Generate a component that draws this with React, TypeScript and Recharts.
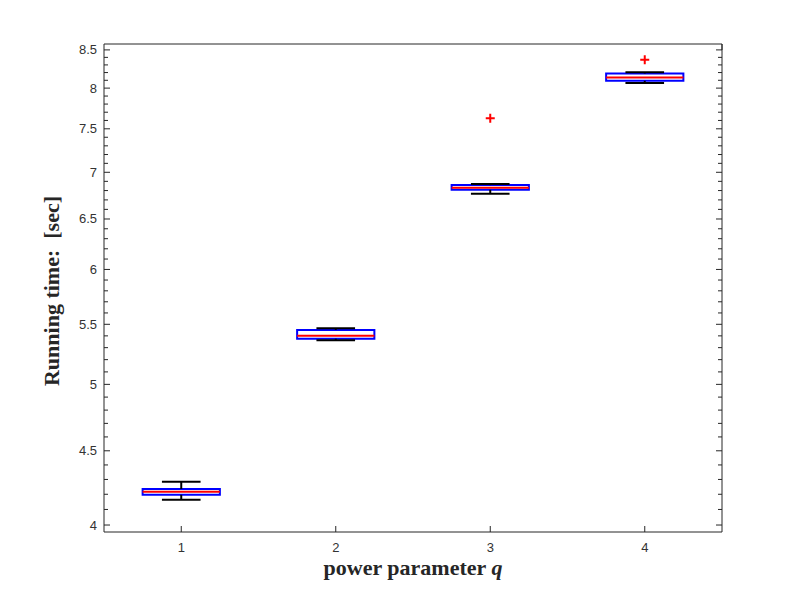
import { ComposedChart, Label, ReferenceArea, ReferenceLine, Scatter, XAxis, YAxis } from "recharts";

// group positions along the x axis (power parameter q)
const groups = [1, 2, 3, 4];
// box statistics (seconds)
const whiskerLow = [4.164, 5.363, 6.765, 8.064];
const q1 = [4.197, 5.376, 6.808, 8.094];
const medians = [4.217, 5.402, 6.83, 8.136];
const q3 = [4.235, 5.451, 6.859, 8.188];
const whiskerHigh = [4.284, 5.466, 6.87, 8.205];
// outliers drawn as red "+"
const outlierGroups = [3, 4];
const outlierValues = [7.628, 8.368];

const xTicks = [1, 2, 3, 4];
const yMajorTicks = [4, 4.5, 5, 5.5, 6, 6.5, 7, 7.5, 8, 8.5];
// log-axis minor ticks every 0.1 between the majors
const yTicks: number[] = [];
for (let i = 40; i <= 85; i++) yTicks.push(i / 10);

const Y_DOMAIN: [number, number] = [3.956, 8.58];
const X_DOMAIN: [number, number] = [0.5, 4.5];
const BOX_HALF = 0.25;
const CAP_HALF = 0.125;
const AXIS = "#262626";
const TICK_FONT = "'Liberation Sans', Arial, Helvetica, sans-serif";
const LABEL_FONT = "'Liberation Serif', 'Times New Roman', serif";

const outliers = outlierGroups.map((q, i) => ({ q, t: outlierValues[i] }));

const isMajor = (v: number) => yMajorTicks.some((m) => Math.abs(m - v) < 1e-6);

function BottomTick({ x, y, payload }: any) {
  return (
    <g>
      <line x1={x} y1={y} x2={x} y2={y - 6} stroke={AXIS} />
      <text x={x} y={y + 20} textAnchor="middle" fontSize={13} fontFamily={TICK_FONT} fill="#333">
        {payload.value}
      </text>
    </g>
  );
}

function TopTick({ x, y }: any) {
  return <line x1={x} y1={y} x2={x} y2={y + 6} stroke={AXIS} />;
}

function LeftTick({ x, y, payload }: any) {
  const major = isMajor(payload.value);
  return (
    <g>
      <line x1={x} y1={y} x2={x + (major ? 6 : 4)} y2={y} stroke={AXIS} />
      {major && (
        <text x={x - 7} y={y + 4.5} textAnchor="end" fontSize={13} fontFamily={TICK_FONT} fill="#333">
          {payload.value}
        </text>
      )}
    </g>
  );
}

function RightTick({ x, y, payload }: any) {
  const major = isMajor(payload.value);
  return <line x1={x} y1={y} x2={x - (major ? 6 : 4)} y2={y} stroke={AXIS} />;
}

function PlusMark({ cx, cy }: any) {
  return <path d={`M${cx - 4.5},${cy}H${cx + 4.5}M${cx},${cy - 4.5}V${cy + 4.5}`} stroke="#ff0000" strokeWidth={2} fill="none" />;
}

export default function App() {
  return (
    <div style={{ position: "absolute", left: 0, top: 0, width: 798, height: 598, background: "#fff" }}>
      <ComposedChart width={798} height={598} data={outliers} margin={{ top: 43, right: 75, bottom: 36, left: 44 }}>
        <XAxis
          dataKey="q"
          type="number"
          domain={X_DOMAIN}
          ticks={xTicks}
          interval={0}
          allowDataOverflow
          height={30}
          tickSize={0}
          tickMargin={0}
          tickLine={false}
          axisLine={{ stroke: AXIS }}
          tick={<BottomTick />}
        >
          <Label
            content={({ viewBox }: any) => (
              <text
                x={viewBox.x + viewBox.width / 2}
                y={viewBox.y + 43}
                textAnchor="middle"
                fontSize={22}
                fontWeight="bold"
                fontFamily={LABEL_FONT}
                fill={AXIS}
              >
                power parameter <tspan fontStyle="italic">q</tspan>
              </text>
            )}
          />
        </XAxis>
        <XAxis
          xAxisId="top"
          orientation="top"
          type="number"
          domain={X_DOMAIN}
          ticks={xTicks}
          interval={0}
          allowDataOverflow
          height={1}
          tickSize={0}
          tickMargin={0}
          tickLine={false}
          axisLine={{ stroke: AXIS }}
          tick={<TopTick />}
        />
        <YAxis
          dataKey="t"
          type="number"
          scale="log"
          domain={Y_DOMAIN}
          ticks={yTicks}
          interval={0}
          allowDataOverflow
          width={60}
          tickSize={0}
          tickMargin={0}
          tickLine={false}
          axisLine={{ stroke: AXIS }}
          tick={<LeftTick />}
        >
          <Label
            content={({ viewBox }: any) => (
              <text
                transform={`translate(${viewBox.x + viewBox.width - 45},${viewBox.y + viewBox.height / 2 + 3}) rotate(-90)`}
                textAnchor="middle"
                fontSize={22}
                fontWeight="bold"
                fontFamily={LABEL_FONT}
                fill={AXIS}
                style={{ whiteSpace: "pre" }}
              >
                {"Running time:  [sec]"}
              </text>
            )}
          />
        </YAxis>
        <YAxis
          yAxisId="right"
          orientation="right"
          type="number"
          scale="log"
          domain={Y_DOMAIN}
          ticks={yTicks}
          interval={0}
          allowDataOverflow
          width={1}
          tickSize={0}
          tickMargin={0}
          tickLine={false}
          axisLine={{ stroke: AXIS }}
          tick={<RightTick />}
        />

        {groups.map((q, i) => (
          <ReferenceLine
            key={`wl-${q}`}
            segment={[{ x: q, y: whiskerLow[i] }, { x: q, y: q1[i] }]}
            stroke="#000"
            strokeWidth={2}
          />
        ))}
        {groups.map((q, i) => (
          <ReferenceLine
            key={`wh-${q}`}
            segment={[{ x: q, y: q3[i] }, { x: q, y: whiskerHigh[i] }]}
            stroke="#000"
            strokeWidth={2}
          />
        ))}
        {groups.map((q, i) => (
          <ReferenceLine
            key={`cl-${q}`}
            segment={[{ x: q - CAP_HALF, y: whiskerLow[i] }, { x: q + CAP_HALF, y: whiskerLow[i] }]}
            stroke="#000"
            strokeWidth={2}
          />
        ))}
        {groups.map((q, i) => (
          <ReferenceLine
            key={`ch-${q}`}
            segment={[{ x: q - CAP_HALF, y: whiskerHigh[i] }, { x: q + CAP_HALF, y: whiskerHigh[i] }]}
            stroke="#000"
            strokeWidth={2}
          />
        ))}
        {groups.map((q, i) => (
          <ReferenceArea
            key={`box-${q}`}
            x1={q - BOX_HALF}
            x2={q + BOX_HALF}
            y1={q1[i]}
            y2={q3[i]}
            fill="#fff"
            fillOpacity={0}
            stroke="#0000ff"
            strokeWidth={2}
            strokeOpacity={1}
          />
        ))}
        {groups.map((q, i) => (
          <ReferenceLine
            key={`med-${q}`}
            segment={[{ x: q - BOX_HALF, y: medians[i] }, { x: q + BOX_HALF, y: medians[i] }]}
            stroke="#ff0000"
            strokeWidth={2}
          />
        ))}
        <Scatter dataKey="t" fill="#ff0000" shape={<PlusMark />} isAnimationActive={false} />
      </ComposedChart>
    </div>
  );
}
